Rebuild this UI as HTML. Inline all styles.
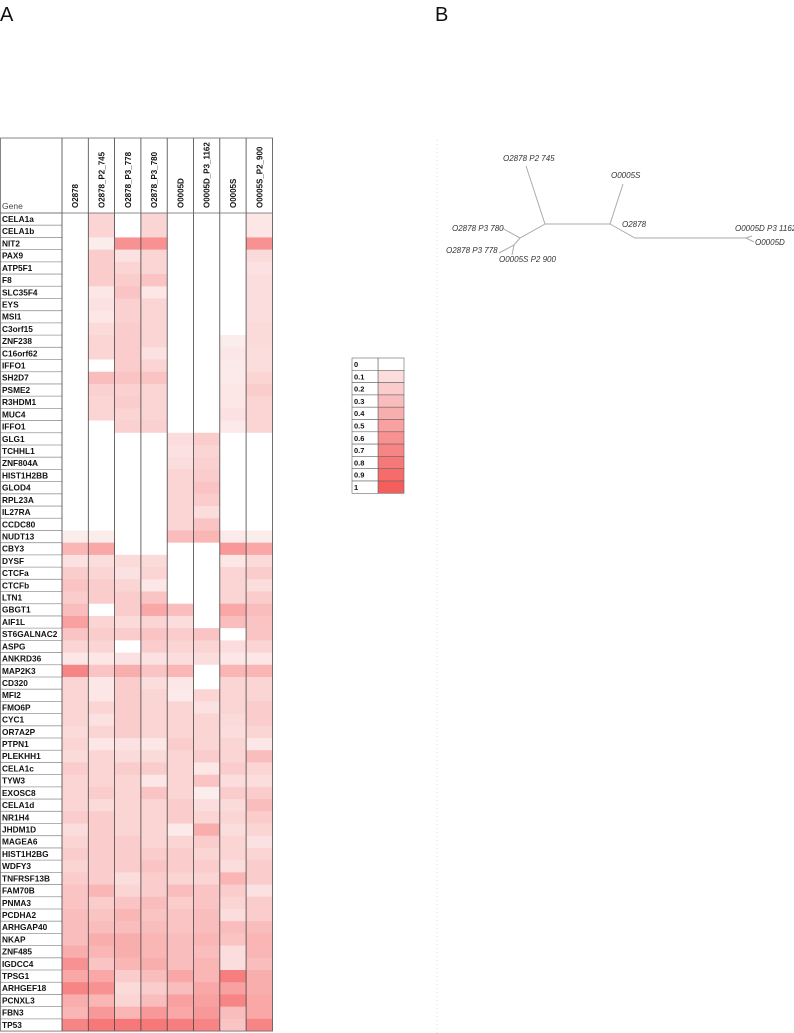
<!DOCTYPE html>
<html><head><meta charset="utf-8"><style>
body{margin:0;background:#fff;width:794px;height:1033px;overflow:hidden;font-family:"Liberation Sans",sans-serif}
svg{position:absolute;left:0;top:0}
</style></head><body>
<svg id="chart" width="794" height="1033">
<text x="0" y="21" font-size="20" fill="#111">A</text>
<text x="435" y="21" font-size="20" fill="#111">B</text>
<line x1="437" y1="140" x2="437" y2="1033" stroke="#ddd" stroke-dasharray="1,3"/>
<g id="heat"></g>
<g id="legend"></g>
<g id="tree" stroke="#aaa" stroke-width="1" fill="none">
<path d="M545,224 L610,224 M545,224 L526,166 M610,224 L623,184 M610,224 L635,238 L746,238 M746,238 L752,236 M746,238 L754,242 M545,224 L520,238 L502,228 M520,238 L514,245 L499,253 M514,245 L512,255"/>
</g>
<g font-size="8" font-style="italic" fill="#333">
<text x="503" y="161">O2878 P2 745</text>
<text x="611" y="178">O0005S</text>
<text x="622" y="227">O2878</text>
<text x="452" y="231">O2878 P3 780</text>
<text x="446" y="253">O2878 P3 778</text>
<text x="499" y="262">O0005S P2 900</text>
<text x="735" y="231">O0005D P3 1162</text>
<text x="755" y="245">O0005D</text>
</g>
</svg>
<script>
const genes=["CELA1a","CELA1b","NIT2","PAX9","ATP5F1","F8","SLC35F4","EYS","MSI1","C3orf15","ZNF238","C16orf62","IFFO1","SH2D7","PSME2","R3HDM1","MUC4","IFFO1","GLG1","TCHHL1","ZNF804A","HIST1H2BB","GLOD4","RPL23A","IL27RA","CCDC80","NUDT13","CBY3","DYSF","CTCFa","CTCFb","LTN1","GBGT1","AIF1L","ST6GALNAC2","ASPG","ANKRD36","MAP2K3","CD320","MFI2","FMO6P","CYC1","OR7A2P","PTPN1","PLEKHH1","CELA1c","TYW3","EXOSC8","CELA1d","NR1H4","JHDM1D","MAGEA6","HIST1H2BG","WDFY3","TNFRSF13B","FAM70B","PNMA3","PCDHA2","ARHGAP40","NKAP","ZNF485","IGDCC4","TPSG1","ARHGEF18","PCNXL3","FBN3","TP53"];
const samples=["O2878","O2878_P2_745","O2878_P3_778","O2878_P3_780","O0005D","O0005D_P3_1162","O0005S","O0005S_P2_900"];
const values=[
[0,.15,0,.15,0,0,0,.05],[0,.15,0,.15,0,0,0,.05],[0,.02,.6,.6,0,0,0,.6],[0,.2,.08,.15,0,0,0,.12],
[0,.2,.15,.15,0,0,0,.08],[0,.2,.2,.25,0,0,0,.1],[0,.05,.25,.05,0,0,0,.1],[0,.08,.18,.15,0,0,0,.1],
[0,.05,.18,.15,0,0,0,.1],[0,.12,.2,.15,0,0,0,.12],[0,.15,.2,.15,0,0,.02,.12],[0,.15,.2,.08,0,0,.05,.1],
[0,0,.2,.15,0,0,.03,.1],[0,.3,.25,.25,0,0,.03,.15],[0,.18,.18,.15,0,0,.05,.2],[0,.15,.2,.15,0,0,.05,.15],
[0,.15,.15,.15,0,0,.08,.15],[0,0,.18,.18,0,0,.03,.15],[0,0,0,0,.1,.2,0,0],[0,0,0,0,.08,.15,0,0],
[0,0,0,0,.1,.18,0,0],[0,0,0,0,.15,.2,0,0],[0,0,0,0,.15,.25,0,0],[0,0,0,0,.15,.2,0,0],
[0,0,0,0,.15,.1,0,0],[0,0,0,0,.15,.25,0,0],[.02,.02,0,0,.3,.35,.03,.02],[.35,.45,0,0,0,0,.55,.45],
[.08,.1,.12,.12,0,0,.05,.12],[.2,.15,.08,.15,0,0,.15,.2],[.25,.2,.15,.05,0,0,.15,.1],[.2,.2,.2,.25,0,0,.15,.2],
[.3,0,.2,.45,.3,0,.45,.3],[.5,.15,.12,.15,.1,0,.3,.25],[.25,.2,.2,.25,.2,.25,0,.25],[.15,.15,0,.2,.15,.15,.1,.15],
[.05,.05,.08,.08,.1,.1,.05,.05],[.7,.25,.4,.25,.35,0,.35,.35],[.15,.05,.2,.1,.05,0,.15,.15],[.15,.05,.2,.15,.03,.15,.15,.15],
[.15,.15,.2,.15,.15,.08,.15,.2],[.15,.08,.2,.15,.15,.15,.12,.2],[.12,.15,.2,.15,.15,.15,.1,.15],[.15,.05,.08,.05,.2,.15,.15,.05],
[.12,.15,.12,.12,.15,.2,.15,.3],[.2,.15,.2,.2,.15,.05,.2,.15],[.15,.15,.15,.05,.15,.25,.1,.1],[.15,.2,.15,.25,.15,.02,.2,.2],
[.15,.12,.15,.15,.2,.1,.12,.3],[.2,.2,.15,.15,.2,.15,.15,.2],[.1,.2,.15,.15,.03,.4,.1,.15],[.15,.2,.2,.15,.15,.2,.15,.08],
[.2,.2,.2,.2,.2,.15,.15,.15],[.15,.2,.2,.25,.2,.2,.1,.2],[.2,.2,.1,.2,.15,.15,.35,.2],[.25,.35,.15,.2,.3,.25,.2,.08],
[.25,.2,.25,.3,.2,.25,.15,.2],[.3,.25,.35,.25,.25,.3,.1,.2],[.3,.3,.3,.3,.25,.3,.3,.3],[.3,.4,.4,.35,.3,.35,.25,.35],
[.4,.35,.4,.35,.3,.3,.1,.35],[.6,.25,.35,.4,.3,.35,.1,.3],[.45,.45,.2,.3,.45,.35,.75,.4],[.7,.6,.12,.2,.3,.45,.5,.4],
[.4,.35,.15,.3,.5,.5,.7,.45],[.35,.55,.35,.55,.45,.55,.3,.45],[.7,.8,.8,.8,.75,.7,.25,.7]];
const legendTicks=[0,0.1,0.2,0.3,0.4,0.5,0.6,0.7,0.8,0.9,1];
const NS="http://www.w3.org/2000/svg";
function mk(tag,attrs,parent){const e=document.createElementNS(NS,tag);for(const k in attrs)e.setAttribute(k,attrs[k]);parent.appendChild(e);return e;}
function color(v){if(v<=0)return "#ffffff";const t=Math.pow(v,0.85);const r=Math.round(252-6*t),g=Math.round(242-148*t),b=Math.round(242-148*t);return `rgb(${r},${g},${b})`;}
const X0=62,CW=26.3,Y0=213,RH=12.21,HT=138;
const xS=i=>X0+i*CW, yS=i=>Y0+i*RH;
const heat=document.getElementById('heat');
values.forEach((row,r)=>row.forEach((v,c)=>{
 const el=mk('rect',{x:xS(c),y:yS(r),width:CW+0.4,height:RH+0.4,fill:color(v)},heat);
 
 
}));
genes.forEach((g,r)=>{
 const t=mk('text',{x:2,y:yS(r)+9,'font-size':8.3,'font-weight':'bold',fill:'#111'},heat);t.textContent=g;
 
 
 mk('line',{x1:0,x2:X0,y1:yS(r),y2:yS(r),stroke:'#999','stroke-width':0.8},heat);
});
samples.forEach((s,c)=>{
 const cx=xS(c)+CW/2+3;
 const t=mk('text',{x:cx,y:208,'font-size':8,'font-weight':'bold',fill:'#111',transform:`rotate(-90 ${cx} 208)`},heat);t.textContent=s;
 
 
});
const gt=mk('text',{x:2,y:209,'font-size':8.5,fill:'#444'},heat);gt.textContent='Gene';


for(let c=0;c<=samples.length;c++)mk('line',{x1:xS(c),x2:xS(c),y1:HT,y2:yS(genes.length),stroke:'#444','stroke-width':0.8},heat);
mk('rect',{x:0.5,y:HT,width:xS(samples.length)-0.5,height:yS(genes.length)-HT,fill:'none',stroke:'#666','stroke-width':0.8},heat);
mk('line',{x1:0,x2:xS(samples.length),y1:Y0,y2:Y0,stroke:'#666','stroke-width':0.8},heat);
const lg=document.getElementById('legend');const LY=358,LH=12.3;
legendTicks.forEach((v,i)=>{
 const y=LY+i*LH;
 const r=mk('rect',{x:378,y:y,width:26,height:LH,fill:color(v),stroke:'#666','stroke-width':0.6},lg);
 
 
 mk('rect',{x:352,y:y,width:26,height:LH,fill:'#fff',stroke:'#666','stroke-width':0.6},lg);
 const t=mk('text',{x:354,y:y+9,'font-size':7.5,'font-weight':'bold',fill:'#111'},lg);t.textContent=String(v);
 
 
});
</script>
</body></html>
